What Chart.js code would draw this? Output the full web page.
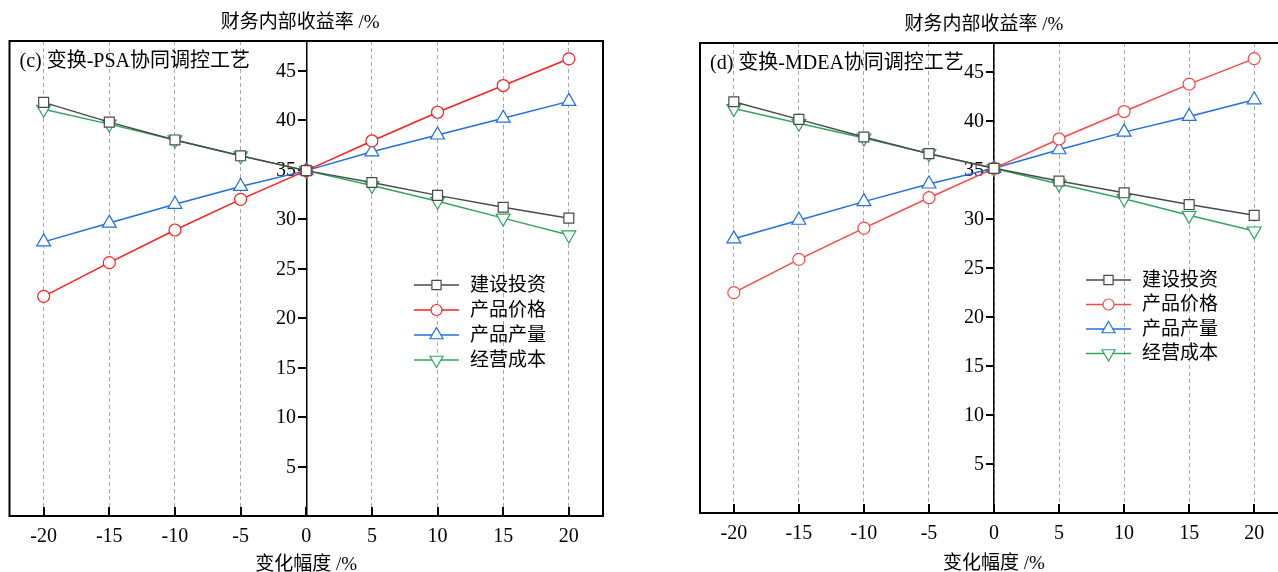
<!DOCTYPE html>
<html>
<head>
<meta charset="utf-8">
<script src="https://cdn.jsdelivr.net/npm/chart.js@4.4.0/dist/chart.umd.min.js"></script>
<style>
  body { margin: 0; background: #fff; width: 1278px; height: 572px; overflow: hidden; position: relative; }
  canvas { position: absolute; top: 0; }
  #chartC { left: 0; }
  #chartD { left: 690px; }
</style>
</head>
<body>
<canvas id="chartC" width="640" height="572"></canvas>
<canvas id="chartD" width="620" height="572"></canvas>
<script>
// x = 变化幅度 (%), y = 财务内部收益率 (%)
const changes = [-20, -15, -10, -5, 0, 5, 10, 15, 20];
const xTicks = [-20, -15, -10, -5, 0, 5, 10, 15, 20];
const yTicks = [5, 10, 15, 20, 25, 30, 35, 40, 45];
const seriesNames = ['建设投资', '产品价格', '产品产量', '经营成本'];

// (c) 变换-PSA协同调控工艺
const psaInvest = [41.8, 39.8, 38.0, 36.4, 34.9, 33.7, 32.4, 31.2, 30.1];
const psaPrice  = [22.2, 25.6, 28.9, 32.0, 34.9, 37.9, 40.8, 43.5, 46.2];
const psaOutput = [27.7, 29.6, 31.5, 33.3, 34.9, 36.8, 38.5, 40.2, 41.9];
const psaCost   = [41.1, 39.6, 38.0, 36.4, 34.9, 33.4, 31.8, 30.1, 28.4];

// (d) 变换-MDEA协同调控工艺
const mdeaInvest = [42.0, 40.2, 38.4, 36.7, 35.2, 33.9, 32.7, 31.5, 30.4];
const mdeaPrice  = [22.5, 25.9, 29.1, 32.2, 35.2, 38.2, 41.0, 43.8, 46.4];
const mdeaOutput = [28.0, 29.9, 31.8, 33.6, 35.2, 37.1, 38.9, 40.5, 42.2];
const mdeaCost   = [41.3, 39.8, 38.3, 36.7, 35.2, 33.6, 32.1, 30.4, 28.8];

const FAMILY = '"Liberation Serif", "Noto Sans CJK SC", serif';
const markerStyles = ['rect', 'circle', 'triangle', 'triangle'];
const markerRot = [0, 0, 0, 180];
const markerRad = [7, 6, 8, 8];

// y axis ticks + labels (axis sits at x = 0), box, inner x ticks, titles, legend
const framePlugin = {
  id: 'frame',
  beforeDatasetsDraw(chart) {
    const ctx = chart.ctx;
    const xs = chart.scales.x;
    const ys = chart.scales.y;
    const ax = Math.round(xs.getPixelForValue(0));
    ctx.save();
    ctx.strokeStyle = '#000';
    ctx.fillStyle = '#000';
    ctx.lineWidth = 2;
    ctx.font = '20px ' + FAMILY;
    ctx.textAlign = 'right';
    ctx.textBaseline = 'middle';
    ys.ticks.forEach(t => {
      const py = Math.round(ys.getPixelForValue(t.value));
      ctx.beginPath();
      ctx.moveTo(ax, py);
      ctx.lineTo(ax - 8, py);
      ctx.stroke();
      ctx.fillText(String(t.value), ax - 10, py + 1);
    });
    ctx.restore();
  },
  afterDraw(chart, args, o) {
    const ctx = chart.ctx;
    const a = chart.chartArea;
    const xs = chart.scales.x;
    ctx.save();
    // inner tick marks on the bottom axis
    ctx.strokeStyle = '#000';
    ctx.lineWidth = 2;
    xs.ticks.forEach(t => {
      const px = Math.round(xs.getPixelForValue(t.value));
      ctx.beginPath();
      ctx.moveTo(px, a.bottom);
      ctx.lineTo(px, a.bottom - 9);
      ctx.stroke();
    });
    // box
    ctx.strokeRect(a.left, a.top, a.right - a.left, a.bottom - a.top);

    ctx.fillStyle = '#000';
    ctx.textBaseline = 'middle';
    // y title on top
    ctx.font = '19px ' + FAMILY;
    ctx.textAlign = 'center';
    ctx.fillText('财务内部收益率 /%', xs.getPixelForValue(0) + o.titleShift, a.top - 18);
    // panel label
    ctx.font = '20px ' + FAMILY;
    ctx.textAlign = 'left';
    ctx.fillText(o.label, a.left + 10, a.top + 21);

    // legend
    ctx.font = '19px ' + FAMILY;
    chart.data.datasets.forEach((ds, i) => {
      const y = o.legendY + i * o.legendGap;
      ctx.strokeStyle = ds.borderColor;
      ctx.lineWidth = 1.5;
      ctx.beginPath();
      ctx.moveTo(o.legendX, y);
      ctx.lineTo(o.legendX + 45, y);
      ctx.stroke();
      ctx.fillStyle = '#fff';
      ctx.lineWidth = 1.2;
      Chart.helpers.drawPoint(ctx, {
        pointStyle: ds.pointStyle, rotation: ds.pointRotation,
        radius: ds.pointRadius - 0.5, borderWidth: 1.2
      }, o.legendX + 22.5, y);
      ctx.fillStyle = '#000';
      ctx.fillText(ds.label, o.legendX + 56, y + 1);
    });
    ctx.restore();
  }
};

function makeChart(id, series, colors, look) {
  const datasets = series.map((vals, i) => ({
    label: seriesNames[i],
    data: changes.map((x, j) => ({ x: x, y: vals[j] })),
    borderColor: colors[i],
    backgroundColor: '#fff',
    pointBackgroundColor: '#fff',
    pointBorderColor: colors[i],
    pointStyle: markerStyles[i],
    pointRotation: markerRot[i],
    pointRadius: markerRad[i],
    pointBorderWidth: 1.2,
    borderWidth: 1.5,
    tension: 0
  }));

  return new Chart(document.getElementById(id), {
    type: 'line',
    data: { datasets: datasets },
    options: {
      responsive: false,
      animation: false,
      layout: { padding: look.pad },
      plugins: {
        legend: { display: false },
        tooltip: { enabled: false },
        frame: look.frame
      },
      scales: {
        x: {
          type: 'linear',
          min: -22.6,
          max: 22.6,
          afterBuildTicks: s => { s.ticks = xTicks.map(v => ({ value: v })); },
          grid: { color: '#a8a8a8', lineWidth: 1, drawTicks: false },
          border: { display: false, dash: [4, 3] },
          ticks: { color: '#000', padding: 11, font: { family: FAMILY, size: 20, lineHeight: 1 } },
          title: {
            display: true, text: '变化幅度 /%', color: '#000',
            font: { family: FAMILY, size: 19, lineHeight: 1 },
            padding: { top: look.titleTop, bottom: 0 }
          }
        },
        y: {
          type: 'linear',
          min: 0,
          max: 48,
          position: { x: 0 },
          afterBuildTicks: s => { s.ticks = yTicks.map(v => ({ value: v })); },
          grid: { drawOnChartArea: false, drawTicks: false },
          border: { display: true, color: '#000', width: 1.5 },
          ticks: { display: false }
        }
      }
    },
    plugins: [framePlugin]
  });
}

makeChart('chartC', [psaInvest, psaPrice, psaOutput, psaCost],
  ['#4a4a4a', '#ff1e1e', '#1f6fe3', '#2ea65e'],
  {
    pad: { left: 9.5, right: 37, top: 41, bottom: -3 },
    titleTop: -2,
    frame: { label: '(c) 变换-PSA协同调控工艺', titleShift: -6, legendX: 414, legendY: 285, legendGap: 25 }
  });

makeChart('chartD', [mdeaInvest, mdeaPrice, mdeaOutput, mdeaCost],
  ['#4a4a4a', '#ff4646', '#1f6fe3', '#2ea65e'],
  {
    pad: { left: 10, right: 22, top: 43, bottom: -2 },
    titleTop: 0,
    frame: { label: '(d) 变换-MDEA协同调控工艺', titleShift: -10, legendX: 396, legendY: 280, legendGap: 24.5 }
  });
</script>
</body>
</html>
